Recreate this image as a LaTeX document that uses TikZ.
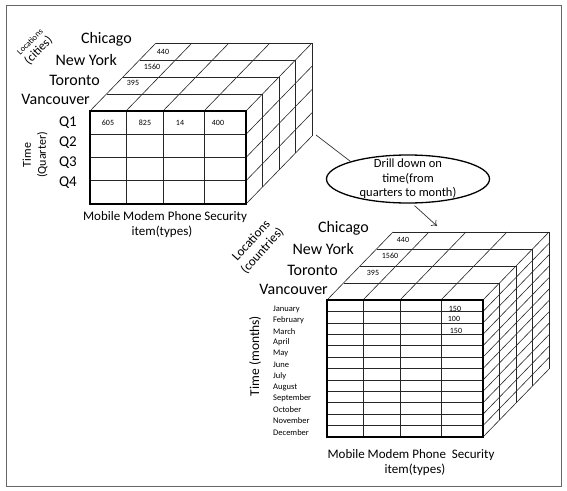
\documentclass[tikz,border=0pt]{standalone}
\usepackage{fontspec}
\setmainfont{Carlito}
\usepackage{tikz}
\usetikzlibrary{shapes.geometric,arrows.meta}
\def\cubewidth{156}
\def\depthx{16.5}
\def\depthy{17}

% one data cube: #1,#2 front top left corner, #3 rows, #4 row height
\newcommand{\drawcube}[4]{%
  \begin{scope}[shift={(#1,#2)}]
    % top face
    \foreach \k in {0,...,4}
      \draw[cubeline] (\k*\depthx,-\k*\depthy) -- ++(\cubewidth,0);
    \foreach \col in {0,36,73,114,156}
      \draw[cubeline] (\col,0) -- ++(4*\depthx,-4*\depthy);
    % right face
    \foreach \k in {1,...,4}
      \draw[cubeline] (\cubewidth+\k*\depthx,-\k*\depthy) -- ++(0,#3*#4);
    \foreach \row in {1,...,#3}
      \draw[cubeline] (\cubewidth,\row*#4) -- ++(4*\depthx,-4*\depthy);
    % front face
    \foreach \row in {1,...,#3}
      \draw[cubeline] (0,\row*#4) -- ++(\cubewidth,0);
    \foreach \col in {36,73,114}
      \draw[cubeline] (\col,0) -- ++(0,#3*#4);
    \draw[frontface] (0,0) rectangle (\cubewidth,#3*#4);
  \end{scope}}

\begin{document}
\begin{tikzpicture}[x=1pt,y=-1pt]
	\tikzstyle{cubeline}=[draw=black!85,line width=0.6pt]
	\tikzstyle{frontface}=[draw=black,line width=1.6pt]
	\tikzstyle{city}=[anchor=east,inner sep=0pt,font=\fontsize{16}{18}\selectfont]
	\tikzstyle{cell}=[inner sep=0pt,font=\fontsize{8}{9}\selectfont]
	\tikzstyle{quarter}=[inner sep=0pt,font=\fontsize{15}{17}\selectfont]
	\tikzstyle{monthname}=[anchor=west,inner sep=0pt,font=\fontsize{8.5}{10}\selectfont]
	\tikzstyle{axislabel}=[inner sep=0pt,align=center,font=\fontsize{12}{15}\selectfont]
	\tikzstyle{items}=[inner sep=0pt,font=\fontsize{13}{15}\selectfont]
	\tikzstyle{link}=[draw=black!80,line width=0.7pt]
	
	\useasboundingbox (0,0) rectangle (567,490);
	\fill[white] (0,0) rectangle (567,490);
	\draw[draw=black!60,line width=1pt] (6,5) rectangle (561,486);
	
	% Draw the quarter cube
	\drawcube{90}{111}{4}{23.25}
	\foreach \name / \x / \y in {1/90/99,2/100/80,3/117/60,4/132/39}
	\node[city] (qcity-\name) at (\x,\y) {\ifcase\name\or Vancouver\or Toronto\or New York\or Chicago\fi};
	\foreach \name in {1,...,4}
	\node[quarter] (Q-\name) at (68,{123+(\name-1)*20}) {Q\name};
	\node[cell] (q-605) at (108,123) {605};
	\node[cell] (q-825) at (145,123) {825};
	\node[cell] (q-14) at (180,123) {14};
	\node[cell] (q-400) at (218,123) {400};
	\node[cell] (q-440) at (163,52) {440};
	\node[cell] (q-1560) at (152,67) {1560};
	\node[cell] (q-395) at (133,83) {395};
	\node[axislabel,rotate=90] (qtime) at (35,155) {Time\\(Quarter)};
	\node[axislabel,rotate=45,font=\fontsize{12.5}{13}\selectfont] (qloc) at (35,47) {{\fontsize{8.5}{9}\selectfont Locations}\\(cities)};
	\node[items] (qitems) at (165,217) {Mobile Modem Phone Security};
	\node[items] (qtypes) at (162,232) {item(types)};
	
	% Draw the month cube
	\drawcube{327}{300}{12}{11.4167}
	\foreach \name / \x / \y in {1/328/289,2/338/270,3/354/249,4/369/228}
	\node[city] (mcity-\name) at (\x,\y) {\ifcase\name\or Vancouver\or Toronto\or New York\or Chicago\fi};
	\foreach \mname [count=\i] in {January,February,March,April,May,June,July,August,September,October,November,December}
	\node[monthname] (M-\i) at (273,{309+(\i-1)*11.2}) {\mname};
	\node[cell] (m-440) at (403,240) {440};
	\node[cell] (m-1560) at (390,256) {1560};
	\node[cell] (m-395) at (373,273) {395};
	\node[cell] (m-jan) at (455,309) {150};
	\node[cell] (m-feb) at (454,319) {100};
	\node[cell] (m-mar) at (456,331) {150};
	\node[axislabel,rotate=90,font=\fontsize{13.5}{15}\selectfont] (mtime) at (255,356) {Time (months)};
	\node[axislabel,rotate=48,font=\fontsize{13}{15}\selectfont] (mloc) at (257,246) {Locations\\(countries)};
	\node[items] (mitems) at (411,455) {Mobile Modem Phone\ \ Security};
	\node[items] (mtypes) at (415,470) {item(types)};
	
	% Annotate the drill down
	\node[ellipse,draw,line width=1.3pt,minimum width=163pt,minimum height=48pt,inner sep=0pt] (drill) at (408,179) {};
	\node[axislabel,font=\fontsize{12.5}{14.5}\selectfont] (drilltext) at (drill.center) {Drill down on\\time(from\\quarters to month)};
	\coordinate (cube-link) at (316,135);
	\coordinate (drill-tip) at (437,226);
	\draw[link] (cube-link) -- (drill.163);
	\draw[link,-{To[length=5pt,width=8pt]},shorten <=3pt] (drill.-80) -- (drill-tip);
\end{tikzpicture}
\end{document}
